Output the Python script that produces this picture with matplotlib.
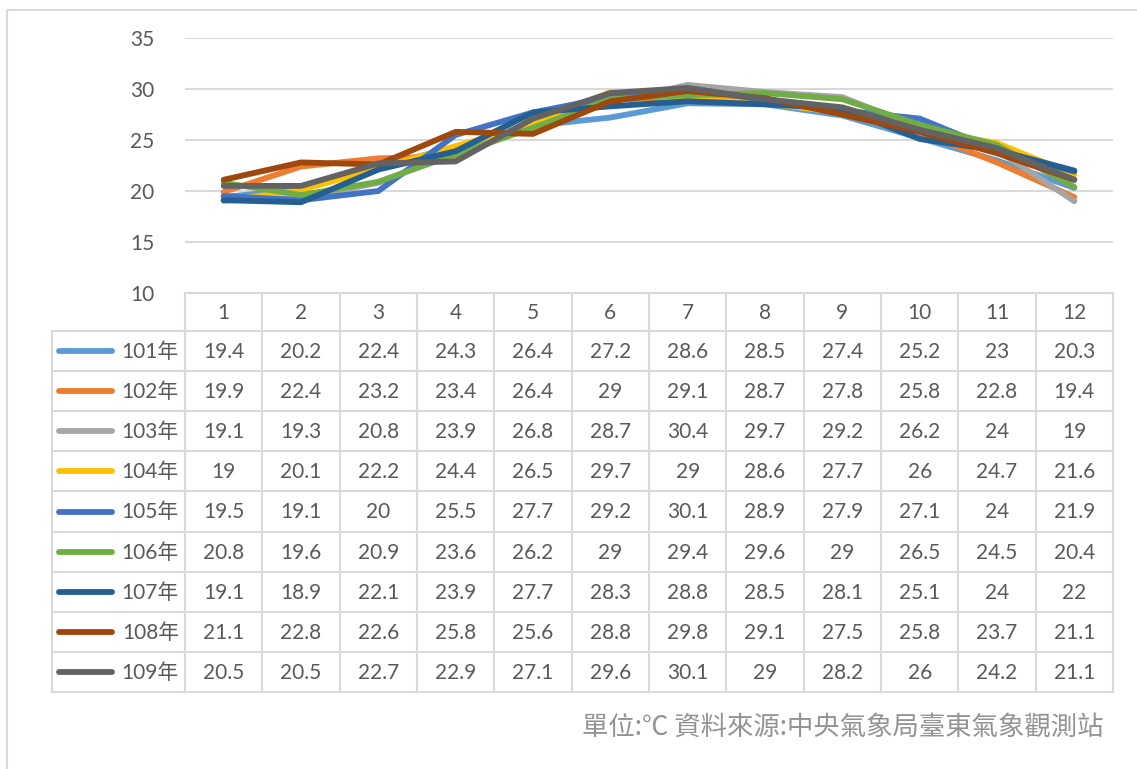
import matplotlib.pyplot as plt
from matplotlib.patches import Rectangle

plt.rcParams['font.family'] = ['Lato', 'Noto Sans CJK TC', 'DejaVu Sans']

months = [str(m) for m in range(1, 13)]
years = ['101年', '102年', '103年', '104年', '105年', '106年', '107年', '108年', '109年']
t101 = [19.4, 20.2, 22.4, 24.3, 26.4, 27.2, 28.6, 28.5, 27.4, 25.2, 23, 20.3]
t102 = [19.9, 22.4, 23.2, 23.4, 26.4, 29, 29.1, 28.7, 27.8, 25.8, 22.8, 19.4]
t103 = [19.1, 19.3, 20.8, 23.9, 26.8, 28.7, 30.4, 29.7, 29.2, 26.2, 24, 19]
t104 = [19, 20.1, 22.2, 24.4, 26.5, 29.7, 29, 28.6, 27.7, 26, 24.7, 21.6]
t105 = [19.5, 19.1, 20, 25.5, 27.7, 29.2, 30.1, 28.9, 27.9, 27.1, 24, 21.9]
t106 = [20.8, 19.6, 20.9, 23.6, 26.2, 29, 29.4, 29.6, 29, 26.5, 24.5, 20.4]
t107 = [19.1, 18.9, 22.1, 23.9, 27.7, 28.3, 28.8, 28.5, 28.1, 25.1, 24, 22]
t108 = [21.1, 22.8, 22.6, 25.8, 25.6, 28.8, 29.8, 29.1, 27.5, 25.8, 23.7, 21.1]
t109 = [20.5, 20.5, 22.7, 22.9, 27.1, 29.6, 30.1, 29, 28.2, 26, 24.2, 21.1]
series = [t101, t102, t103, t104, t105, t106, t107, t108, t109]
colors = ['#5B9BD5', '#ED7D31', '#A5A5A5', '#FFC000', '#4472C4',
          '#70AD47', '#255E91', '#9E480E', '#636363']
note = '單位:℃ 資料來源:中央氣象局臺東氣象觀測站'

W, H = 1137, 769
txt = '#595959'
grid = '#D9D9D9'
fs = 15
fig = plt.figure(figsize=(W / 100, H / 100), dpi=100)

# overlay axes in pixel units for the border and the data table
ov = fig.add_axes([0, 0, 1, 1])
ov.set_xlim(0, W)
ov.set_ylim(H, 0)
ov.axis('off')
ov.add_patch(Rectangle((7, 10), W, H, fill=False, ec=grid, lw=1.5))

# plot area
x0, x1, ytop, ybot = 185, 1113, 38, 293
ax = fig.add_axes([x0 / W, 1 - ybot / H, (x1 - x0) / W, (ybot - ytop) / H])
x = list(range(1, 13))
for vals, c in zip(series, colors):
    ax.plot(x, vals, color=c, lw=4.2, solid_joinstyle='round', solid_capstyle='round')
ax.set_xlim(0.5, 12.5)
ax.set_ylim(10, 35)
ax.set_yticks([10, 15, 20, 25, 30, 35])
ax.set_xticks([])
ax.grid(axis='y', color=grid, lw=1.5)
ax.set_axisbelow(True)
for s in ax.spines.values():
    s.set_visible(False)
ax.tick_params(axis='y', length=0, pad=22, labelsize=fs, labelcolor=txt)

# data table
colw = (x1 - x0) / 12
hdr_top, hdr_bot = 293, 331
rowh = (692 - hdr_bot) / len(years)
tleft = 52
lw = 1.5
ov.plot([x0, x1], [hdr_top, hdr_top], color=grid, lw=lw)
for i in range(len(years) + 1):
    y = hdr_bot + i * rowh
    ov.plot([tleft, x1], [y, y], color=grid, lw=lw)
for j in range(13):
    xx = x0 + j * colw
    ov.plot([xx, xx], [hdr_top, 692], color=grid, lw=lw)
ov.plot([tleft, tleft], [hdr_bot, 692], color=grid, lw=lw)

for j, m in enumerate(months):
    ov.text(x0 + (j + 0.5) * colw, (hdr_top + hdr_bot) / 2 + 1, m,
            ha='center', va='center', fontsize=fs, color=txt)
for i, (yr, vals, c) in enumerate(zip(years, series, colors)):
    yc = hdr_bot + (i + 0.5) * rowh
    ov.plot([59, 112], [yc, yc], color=c, lw=4.2, solid_capstyle='round')
    ov.text(179, yc + 1, yr, ha='right', va='center', fontsize=fs, color=txt)
    for j, v in enumerate(vals):
        ov.text(x0 + (j + 0.5) * colw, yc + 1, f'{v:g}',
                ha='center', va='center', fontsize=fs, color=txt)

ov.text(1103, 727, note, ha='right', va='center', fontsize=19, color='#939393',
        family=['Noto Sans CJK TC', 'DejaVu Sans'])

fig.savefig('out.png', dpi=100)
